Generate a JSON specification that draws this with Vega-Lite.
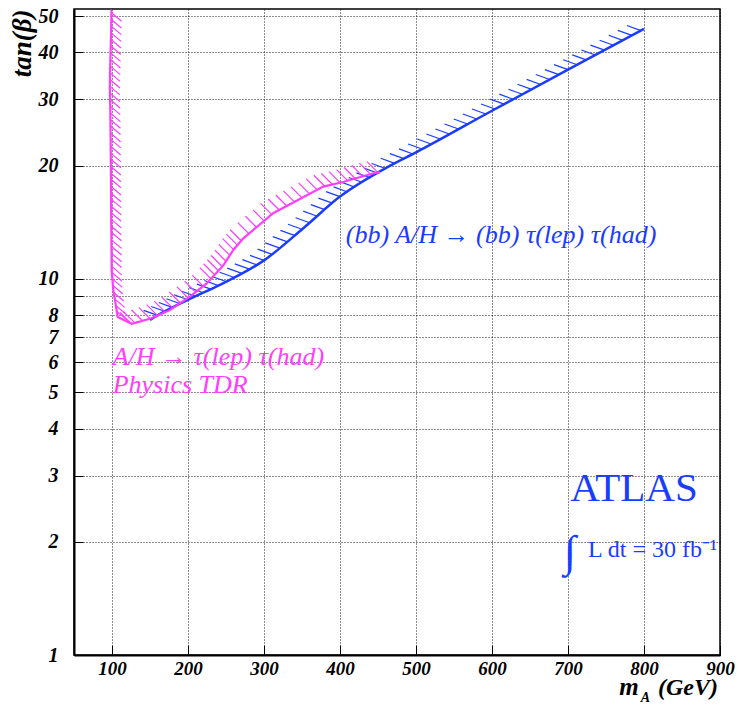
{
  "$schema": "https://vega.github.io/schema/vega-lite/v6.json",
  "width": 646,
  "height": 646,
  "autosize": {"type": "none"},
  "padding": {"left": 74, "top": 9, "right": 18, "bottom": 52},
  "background": "white",
  "config": {"view": {"stroke": "#000", "strokeWidth": 1.5}, "font": "Liberation Serif"},
  "datasets": {
    "blueLine": [
      {"x": 150, "y": 7.78}, {"x": 160, "y": 8.0}, {"x": 200, "y": 8.8}, {"x": 242, "y": 9.64},
      {"x": 300, "y": 11.2}, {"x": 351.7, "y": 13.64}, {"x": 400, "y": 16.55}, {"x": 466, "y": 20.0},
      {"x": 500, "y": 21.7}, {"x": 600, "y": 28.0}, {"x": 700, "y": 36.0}, {"x": 800, "y": 46.2}
    ],
    "blueHatch": [
      {"x": 160, "y": 8.0}, {"x": 170, "y": 8.19}, {"x": 180, "y": 8.39}, {"x": 190, "y": 8.59},
      {"x": 200, "y": 8.8}, {"x": 210, "y": 8.99}, {"x": 220, "y": 9.19}, {"x": 230, "y": 9.39},
      {"x": 240, "y": 9.6}, {"x": 250, "y": 9.84}, {"x": 260, "y": 10.1}, {"x": 270, "y": 10.36},
      {"x": 280, "y": 10.63}, {"x": 290, "y": 10.91}, {"x": 300, "y": 11.2}, {"x": 310, "y": 11.64},
      {"x": 320, "y": 12.09}, {"x": 330, "y": 12.56}, {"x": 340, "y": 13.05}, {"x": 350, "y": 13.55},
      {"x": 360, "y": 14.1}, {"x": 370, "y": 14.68}, {"x": 380, "y": 15.28}, {"x": 390, "y": 15.9},
      {"x": 400, "y": 16.55}, {"x": 410, "y": 17.03}, {"x": 420, "y": 17.53}, {"x": 430, "y": 18.04},
      {"x": 440, "y": 18.56}, {"x": 450, "y": 19.1}, {"x": 460, "y": 19.66}, {"x": 472, "y": 20.29},
      {"x": 484, "y": 20.88}, {"x": 496, "y": 21.49}, {"x": 508, "y": 22.15}, {"x": 520, "y": 22.84},
      {"x": 532, "y": 23.55}, {"x": 544, "y": 24.28}, {"x": 556, "y": 25.03}, {"x": 568, "y": 25.81},
      {"x": 580, "y": 26.61}, {"x": 592, "y": 27.44}, {"x": 604, "y": 28.29}, {"x": 616, "y": 29.16},
      {"x": 628, "y": 30.05}, {"x": 640, "y": 30.97}, {"x": 652, "y": 31.92}, {"x": 664, "y": 32.89},
      {"x": 676, "y": 33.89}, {"x": 688, "y": 34.93}, {"x": 700, "y": 36.0}, {"x": 712, "y": 37.1},
      {"x": 724, "y": 38.22}, {"x": 736, "y": 39.38}, {"x": 748, "y": 40.58}, {"x": 760, "y": 41.81},
      {"x": 772, "y": 43.09}, {"x": 784, "y": 44.4}, {"x": 796, "y": 45.74}
    ],
    "magLine": [
      {"i": 0, "x": 99.3, "y": 52}, {"i": 1, "x": 98.8, "y": 45}, {"i": 2, "x": 97.5, "y": 36},
      {"i": 3, "x": 97.2, "y": 32}, {"i": 4, "x": 97.8, "y": 28}, {"i": 5, "x": 98.5, "y": 20},
      {"i": 6, "x": 99, "y": 14}, {"i": 7, "x": 99.6, "y": 10.5}, {"i": 8, "x": 101.7, "y": 9.36},
      {"i": 9, "x": 107.5, "y": 7.92}, {"i": 10, "x": 126, "y": 7.6}, {"i": 11, "x": 152, "y": 7.86},
      {"i": 12, "x": 176, "y": 8.26}, {"i": 13, "x": 203, "y": 8.98}, {"i": 14, "x": 224.6, "y": 9.73},
      {"i": 15, "x": 246.5, "y": 10.86}, {"i": 16, "x": 259.6, "y": 11.94}, {"i": 17, "x": 272.8, "y": 12.82},
      {"i": 18, "x": 312, "y": 14.95}, {"i": 19, "x": 378, "y": 17.6}, {"i": 20, "x": 404, "y": 18.1},
      {"i": 21, "x": 444, "y": 19.1}, {"i": 22, "x": 452.6, "y": 19.2}
    ],
    "magHatchV": [
      {"x": 99.3, "y": 51}, {"x": 99.1, "y": 48.96}, {"x": 99, "y": 47}, {"x": 98.8, "y": 45.1},
      {"x": 98.6, "y": 43.3}, {"x": 98.4, "y": 41.6}, {"x": 98.2, "y": 39.9}, {"x": 98, "y": 38.3},
      {"x": 97.7, "y": 36.8}, {"x": 97.5, "y": 35.3}, {"x": 97.3, "y": 33.9}, {"x": 97.2, "y": 32.5},
      {"x": 97.3, "y": 31.2}, {"x": 97.5, "y": 30}, {"x": 97.7, "y": 28.8}, {"x": 97.9, "y": 27.6},
      {"x": 98, "y": 26.5}, {"x": 98.1, "y": 25.5}, {"x": 98.2, "y": 24.4}, {"x": 98.3, "y": 23.5},
      {"x": 98.4, "y": 22.5}, {"x": 98.4, "y": 21.6}, {"x": 98.5, "y": 20.8}, {"x": 98.5, "y": 19.9},
      {"x": 98.6, "y": 19.1}, {"x": 98.6, "y": 18.4}, {"x": 98.7, "y": 17.6}, {"x": 98.8, "y": 16.9},
      {"x": 98.8, "y": 16.3}, {"x": 98.9, "y": 15.6}, {"x": 98.9, "y": 15}, {"x": 99, "y": 14.4},
      {"x": 99.1, "y": 13.8}, {"x": 99.2, "y": 13.3}, {"x": 99.3, "y": 12.7}, {"x": 99.4, "y": 12.2},
      {"x": 99.4, "y": 11.7}, {"x": 99.5, "y": 11.3}, {"x": 99.6, "y": 10.8}, {"x": 99.9, "y": 10.4},
      {"x": 100.5, "y": 10}, {"x": 101.2, "y": 9.6}, {"x": 102.3, "y": 9.2}, {"x": 103.6, "y": 8.85},
      {"x": 105, "y": 8.5}, {"x": 106.2, "y": 8.2}
    ],
    "magHatchC": [
      {"x": 125, "y": 7.62}, {"x": 130, "y": 7.64}, {"x": 140, "y": 7.74}, {"x": 150, "y": 7.84},
      {"x": 160, "y": 7.99}, {"x": 170, "y": 8.16}, {"x": 180, "y": 8.36}, {"x": 190, "y": 8.63},
      {"x": 200, "y": 8.9}, {"x": 210, "y": 9.22}, {"x": 220, "y": 9.57}, {"x": 230, "y": 10.02},
      {"x": 235, "y": 10.26}, {"x": 240, "y": 10.51}, {"x": 245, "y": 10.79}, {"x": 250, "y": 11.14},
      {"x": 255, "y": 11.55}, {"x": 260, "y": 11.96}, {"x": 265, "y": 12.3}, {"x": 270, "y": 12.63},
      {"x": 280, "y": 13.19}, {"x": 290, "y": 13.72}, {"x": 300, "y": 14.26}, {"x": 310, "y": 14.84},
      {"x": 320, "y": 15.25}, {"x": 330, "y": 15.63}, {"x": 340, "y": 16.02}, {"x": 350, "y": 16.42},
      {"x": 360, "y": 16.83}, {"x": 370, "y": 17.25}, {"x": 380, "y": 17.64}, {"x": 390, "y": 17.83},
      {"x": 400, "y": 18.03}, {"x": 410, "y": 18.25}, {"x": 420, "y": 18.49}, {"x": 430, "y": 18.74},
      {"x": 440, "y": 19.0}, {"x": 450, "y": 19.17}
    ],
    "minorTicks": [
      {"x": 60}, {"x": 80}, {"x": 120}, {"x": 140}, {"x": 160}, {"x": 180}, {"x": 220}, {"x": 240},
      {"x": 260}, {"x": 280}, {"x": 320}, {"x": 340}, {"x": 360}, {"x": 380}, {"x": 420}, {"x": 440},
      {"x": 460}, {"x": 480}, {"x": 520}, {"x": 540}, {"x": 560}, {"x": 580}, {"x": 620}, {"x": 640},
      {"x": 660}, {"x": 680}, {"x": 720}, {"x": 740}, {"x": 760}, {"x": 780}, {"x": 820}, {"x": 840},
      {"x": 860}, {"x": 880}
    ],
    "labels": [
      {"id": "blue", "x": 612, "y": 13.1, "text": "(bb) A/H → (bb) τ(lep) τ(had)"},
      {"id": "mag1", "x": 100.9, "y": 6.2, "text": "A/H → τ(lep) τ(had)"},
      {"id": "mag2", "x": 100.9, "y": 5.23, "text": "Physics TDR"},
      {"id": "atlas", "x": 786.8, "y": 2.764, "text": "ATLAS"},
      {"id": "integral", "x": 702.6, "y": 1.867, "text": "∫"},
      {"id": "lumi", "x": 726.3, "y": 1.902, "text": "L dt = 30 fb⁻¹"},
      {"id": "xm", "x": 780.3, "y": 0.785, "text": "m"},
      {"id": "sub", "x": 802, "y": 0.768, "text": "A"},
      {"id": "gev", "x": 897.4, "y": 0.785, "text": "(GeV)"}
    ]
  },
  "encoding": {
    "x": {
      "field": "x", "type": "quantitative",
      "scale": {"domain": [50, 900], "nice": false, "zero": false},
      "axis": {
        "values": [100, 200, 300, 400, 500, 600, 700, 800, 900], "format": "d",
        "grid": true, "gridDash": [1, 2], "gridColor": "#000", "gridOpacity": 0.9, "gridWidth": 1,
        "domainColor": "#000", "domainWidth": 2,
        "tickColor": "#000", "tickSize": -10, "tickWidth": 1,
        "labelFont": "Liberation Serif", "labelFontSize": 19, "labelFontStyle": "italic", "labelFontWeight": "bold",
        "labelColor": "#000", "labelPadding": 14, "labelFlush": false,
        "title": null
      }
    },
    "y": {
      "field": "y", "type": "quantitative",
      "scale": {"type": "log", "domain": [1, 52.2], "nice": false},
      "axis": {
        "values": [1, 2, 3, 4, 5, 6, 7, 8, 9, 10, 20, 30, 40, 50], "format": "d",
        "grid": true, "gridDash": [1, 2], "gridColor": "#000", "gridOpacity": 0.9, "gridWidth": 1,
        "domainColor": "#000", "domainWidth": 2,
        "tickColor": "#000", "tickSize": -9, "tickWidth": 1,
        "labelFont": "Liberation Serif", "labelFontSize": 20, "labelFontStyle": "italic", "labelFontWeight": "bold",
        "labelColor": "#000", "labelPadding": 25,
        "title": "tan(β)", "titleFont": "Liberation Serif", "titleFontSize": 27,
        "titleFontStyle": "italic", "titleFontWeight": "bold", "titleColor": "#000",
        "titleAnchor": "end", "titleBaseline": "middle", "titleX": -52
      }
    }
  },
  "layer": [
    {
      "data": {"name": "minorTicks"},
      "mark": {"type": "rule", "color": "#000", "strokeWidth": 1},
      "encoding": {"y": {"datum": 1}, "y2": {"datum": 1.032}}
    },
    {
      "data": {"name": "blueHatch"},
      "mark": {"type": "point", "shape": "M0,0L-1,-0.36", "size": 784, "filled": false, "color": "#1a3cff", "strokeWidth": 1.2, "opacity": 1}
    },
    {
      "data": {"name": "blueLine"},
      "mark": {"type": "line", "color": "#1a3cff", "strokeWidth": 2.5, "interpolate": "monotone"}
    },
    {
      "data": {"name": "magHatchV"},
      "mark": {"type": "point", "shape": "M0,0L1,0.85", "size": 400, "filled": false, "color": "#ff3dff", "strokeWidth": 1.2, "opacity": 1}
    },
    {
      "data": {"name": "magHatchC"},
      "mark": {"type": "point", "shape": "M0,0L-1,-1", "size": 484, "filled": false, "color": "#ff3dff", "strokeWidth": 1.2, "opacity": 1}
    },
    {
      "data": {"name": "magLine"},
      "mark": {"type": "line", "color": "#ff3dff", "strokeWidth": 2.2},
      "encoding": {"order": {"field": "i", "type": "quantitative"}}
    },
    {
      "data": {"name": "labels"},
      "transform": [{"filter": "datum.id == 'blue'"}],
      "mark": {"type": "text", "font": "Liberation Serif", "fontSize": 26, "fontStyle": "italic", "color": "#1a3cff", "align": "center", "baseline": "middle"},
      "encoding": {"text": {"field": "text"}}
    },
    {
      "data": {"name": "labels"},
      "transform": [{"filter": "datum.id == 'mag1' || datum.id == 'mag2'"}],
      "mark": {"type": "text", "font": "Liberation Serif", "fontSize": 26, "fontStyle": "italic", "color": "#ff3dff", "align": "left", "baseline": "middle"},
      "encoding": {"text": {"field": "text"}}
    },
    {
      "data": {"name": "labels"},
      "transform": [{"filter": "datum.id == 'atlas'"}],
      "mark": {"type": "text", "font": "Liberation Serif", "fontSize": 41, "color": "#1a3cff", "align": "center", "baseline": "middle"},
      "encoding": {"text": {"field": "text"}}
    },
    {
      "data": {"name": "labels"},
      "transform": [{"filter": "datum.id == 'integral'"}],
      "mark": {"type": "text", "font": "Liberation Serif", "fontSize": 44, "color": "#1a3cff", "align": "center", "baseline": "middle"},
      "encoding": {"text": {"field": "text"}}
    },
    {
      "data": {"name": "labels"},
      "transform": [{"filter": "datum.id == 'lumi'"}],
      "mark": {"type": "text", "font": "Liberation Serif", "fontSize": 24, "color": "#1a3cff", "align": "left", "baseline": "middle"},
      "encoding": {"text": {"field": "text"}}
    },
    {
      "data": {"name": "labels"},
      "transform": [{"filter": "datum.id == 'xm'"}],
      "mark": {"type": "text", "font": "Liberation Serif", "fontSize": 25, "fontStyle": "italic", "fontWeight": "bold", "color": "#000", "align": "center", "baseline": "alphabetic"},
      "encoding": {"text": {"field": "text"}}
    },
    {
      "data": {"name": "labels"},
      "transform": [{"filter": "datum.id == 'gev'"}],
      "mark": {"type": "text", "font": "Liberation Serif", "fontSize": 24, "fontStyle": "italic", "fontWeight": "bold", "color": "#000", "align": "right", "baseline": "alphabetic"},
      "encoding": {"text": {"field": "text"}}
    },
    {
      "data": {"name": "labels"},
      "transform": [{"filter": "datum.id == 'sub'"}],
      "mark": {"type": "text", "font": "Liberation Serif", "fontSize": 14, "fontStyle": "italic", "fontWeight": "bold", "color": "#000", "align": "center", "baseline": "middle"},
      "encoding": {"text": {"field": "text"}}
    }
  ]
}
